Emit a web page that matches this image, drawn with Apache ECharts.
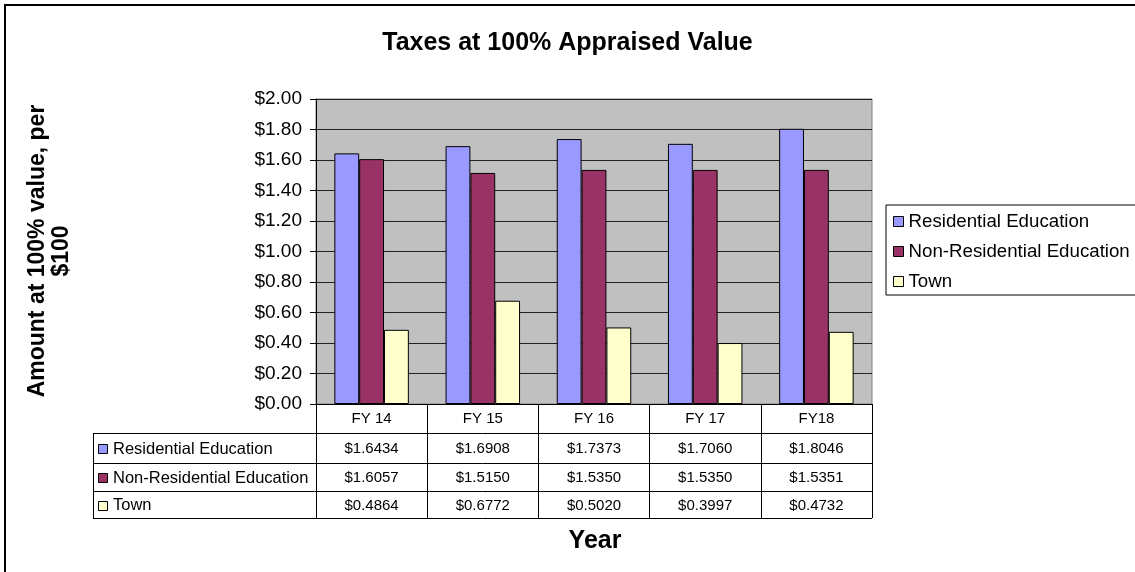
<!DOCTYPE html>
<html>
<head>
<meta charset="utf-8">
<script src="https://cdn.jsdelivr.net/npm/echarts@6/dist/echarts.min.js"></script>
<style>
html,body{margin:0;padding:0;background:#fff;}
#chart{width:1135px;height:572px;}
</style>
</head>
<body>
<div id="chart"></div>
<script>
const categories = ["FY 14", "FY 15", "FY 16", "FY 17", "FY18"];
const seriesNames = ["Residential Education", "Non-Residential Education", "Town"];
const residential = [1.6434, 1.6908, 1.7373, 1.7060, 1.8046];
const nonResidential = [1.6057, 1.5150, 1.5350, 1.5350, 1.5351];
const town = [0.4864, 0.6772, 0.5020, 0.3997, 0.4732];
const colors = ["#9999FF", "#993366", "#FFFFCC"];
const yTicks = [0, 0.2, 0.4, 0.6, 0.8, 1.0, 1.2, 1.4, 1.6, 1.8, 2.0];

const FONT = "'Liberation Sans', Arial, sans-serif";
const G = {left: 316, top: 99, width: 556, height: 305};
const rowsY = [433, 463, 491, 518]; // table row boundaries below header
const tableLeft = 93;

const chart = echarts.init(document.getElementById('chart'), null, {renderer: 'canvas'});
const allSeries = [residential, nonResidential, town];

const option = {
  animation: false,
  backgroundColor: '#fff',
  title: {
    text: 'Taxes at 100% Appraised Value',
    left: 'center', top: 26,
    textStyle: {fontFamily: FONT, fontSize: 25, fontWeight: 'bold', color: '#000'}
  },
  legend: {
    orient: 'vertical',
    left: 886, top: 205,
    padding: [7, 6, 4, 7],
    itemGap: 11,
    itemWidth: 10, itemHeight: 10,
    borderColor: '#000', borderWidth: 1,
    icon: 'rect',
    itemStyle: {borderColor: '#000', borderWidth: 1},
    textStyle: {fontFamily: FONT, fontSize: 18.7, color: '#000'},
    data: seriesNames
  },
  grid: {
    left: G.left, top: G.top, width: G.width, height: G.height,
    show: true, backgroundColor: '#C0C0C0', borderColor: '#808080', borderWidth: 1,
    containLabel: false, outerBoundsMode: 'none'
  },
  xAxis: {
    type: 'category',
    data: categories,
    axisLine: {show: true, lineStyle: {color: '#000', width: 1}},
    axisTick: {show: true, interval: 0, length: 114, lineStyle: {color: '#000', width: 1}},
    axisLabel: {interval: 0, margin: 7, fontFamily: FONT, fontSize: 15, color: '#000'},
    splitLine: {show: false}
  },
  yAxis: {
    type: 'value',
    min: 0, max: 2, interval: 0.2,
    axisLine: {show: true, lineStyle: {color: '#000', width: 1}},
    axisTick: {show: true, length: 6, lineStyle: {color: '#000'}},
    axisLabel: {margin: 14, fontFamily: FONT, fontSize: 19, color: '#000',
      formatter: v => '$' + v.toFixed(2)},
    splitLine: {show: true, lineStyle: {color: '#222', width: 1}}
  },
  series: allSeries.map((d, i) => ({
    name: seriesNames[i],
    type: 'bar',
    data: d,
    barGap: '0%',
    barCategoryGap: '33%',
    itemStyle: {color: colors[i], borderColor: '#000', borderWidth: 1}
  }))
};
chart.setOption(option);

// Data table and decorations
const g = [];
// outer border (only top/left visible inside the frame)
g.push({type: 'rect', shape: {x: 5, y: 5, width: 1140, height: 580}, style: {fill: 'none', stroke: '#000', lineWidth: 2}, silent: true});
// horizontal lines of table
rowsY.forEach(y => {
  g.push({type: 'line', shape: {x1: tableLeft, y1: y + 0.5, x2: G.left + G.width, y2: y + 0.5}, style: {stroke: '#000', lineWidth: 1}});
});
g.push({type: 'line', shape: {x1: tableLeft + 0.5, y1: rowsY[0], x2: tableLeft + 0.5, y2: rowsY[3]}, style: {stroke: '#000', lineWidth: 1}});
// row labels + values
for (let r = 0; r < 3; r++) {
  const cy = (rowsY[r] + rowsY[r + 1]) / 2 + 1;
  g.push({type: 'rect', shape: {x: 98.5, y: Math.round(cy - 5) + 0.5, width: 9, height: 9},
    style: {fill: colors[r], stroke: '#000', lineWidth: 1}});
  g.push({type: 'text', x: 113, y: cy, style: {text: seriesNames[r], font: '16.5px ' + FONT, fill: '#000', textVerticalAlign: 'middle', textAlign: 'left'}});
  for (let c = 0; c < categories.length; c++) {
    const px = chart.convertToPixel({xAxisIndex: 0}, categories[c]);
    g.push({type: 'text', x: px, y: cy, style: {text: '$' + allSeries[r][c].toFixed(4), font: '15px ' + FONT, fill: '#000', textAlign: 'center', textVerticalAlign: 'middle'}});
  }
}
// y axis name
g.push({type: 'text', x: 50, y: 251, rotation: Math.PI / 2,
  style: {text: 'Amount at 100% value, per\n$100', font: 'bold 23px ' + FONT, fill: '#000', textAlign: 'center', textVerticalAlign: 'middle', lineHeight: 24}});
// x axis name
g.push({type: 'text', x: 595, y: 541, style: {text: 'Year', font: 'bold 25px ' + FONT, fill: '#000', textAlign: 'center', textVerticalAlign: 'middle'}});

chart.setOption({graphic: g});
</script>
</body>
</html>
